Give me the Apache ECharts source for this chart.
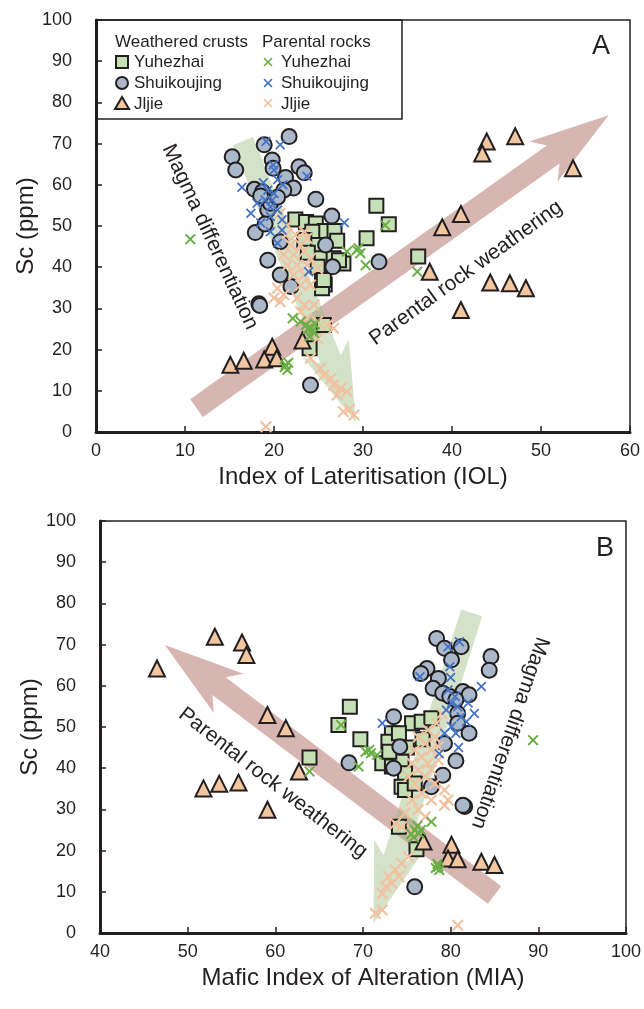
<!DOCTYPE html>
<html><head><meta charset="utf-8">
<script src="https://cdn.jsdelivr.net/npm/echarts@6/dist/echarts.min.js"></script>
<style>html,body{margin:0;padding:0;background:#fff}#c{width:644px;height:1009px}</style>
</head><body><div id="c"></div>
<script>
// ---------- DATA (Sc ppm vs IOL / MIA) ----------
const xTicksA = [0, 10, 20, 30, 40, 50, 60];
const xTicksB = [40, 50, 60, 70, 80, 90, 100];
const yTicks = [0, 10, 20, 30, 40, 50, 60, 70, 80, 90, 100];

// Panel A: IOL vs Sc
const crustYuhezhaiA = [[31.5,54.9],[32.9,50.4],[30.4,47.0],[36.2,42.6],[24.0,20.3],[22.4,51.6],[23.6,51.0],[24.7,50.6],[25.7,48.8],[26.8,48.8],[27.1,46.4],[24.3,48.6],[24.5,45.4],[25.2,42.2],[26.7,42.2],[27.8,40.9],[25.4,37.3],[25.7,35.8],[25.4,34.9],[25.6,26.0],[23.4,46.6],[23.8,43.5],[24.9,40.1],[25.6,36.9],[27.3,41.7]];
const crustShuikoujingA = [[21.7,71.7],[18.9,69.7],[15.3,66.8],[15.7,63.6],[19.8,66.0],[22.8,64.4],[23.4,62.9],[21.3,61.8],[19.9,64.0],[22.2,59.2],[17.8,58.9],[18.7,58.3],[21.1,58.7],[24.7,56.5],[19.3,53.9],[26.5,52.4],[17.9,48.4],[20.7,46.2],[25.8,45.4],[19.3,41.7],[26.6,40.1],[20.7,38.1],[18.3,31.1],[18.4,30.7],[24.1,11.4],[31.8,41.3],[19.6,55.5],[20.4,57.0],[18.5,57.3],[19.0,50.5],[21.9,35.3]];
const crustJljieA = [[43.9,70.5],[43.4,67.6],[47.1,71.8],[53.6,64.0],[41.0,52.9],[38.9,49.7],[37.5,38.9],[44.3,36.3],[46.5,36.1],[48.3,34.9],[41.0,29.6],[23.2,22.2],[15.1,16.3],[16.6,17.3],[19.8,20.7],[18.9,17.6],[20.3,17.9]];
const rockYuhezhaiA = [[10.6,46.8],[22.1,27.6],[24.1,25.2],[24.5,24.0],[23.6,26.0],[23.0,26.8],[24.0,23.2],[24.6,26.2],[24.3,24.6],[23.8,25.0],[21.3,16.3],[21.5,15.1],[21.2,15.7],[21.6,16.8],[28.2,43.8],[29.3,44.2],[29.7,43.4],[30.3,40.5],[32.5,50.2],[36.1,38.9],[29.5,44.6]];
const rockShuikoujingA = [[19.1,70.5],[20.7,69.7],[19.9,64.8],[20.0,63.6],[23.7,62.1],[20.4,61.2],[16.4,59.4],[19.3,58.7],[20.0,57.9],[19.8,56.3],[19.0,56.3],[19.6,54.7],[18.1,55.5],[20.4,53.9],[17.4,53.1],[19.6,52.3],[20.9,51.5],[18.5,50.7],[19.6,48.6],[20.9,49.0],[20.4,45.8],[23.9,38.9],[27.9,50.8],[18.8,60.5],[21.0,60.0]];
const rockJljieA = [[20.7,53.1],[21.5,50.2],[21.3,47.8],[22.4,47.8],[23.4,48.6],[23.7,47.0],[23.0,45.4],[21.9,45.4],[21.1,43.0],[22.2,43.0],[23.4,43.8],[24.1,42.2],[21.5,40.5],[22.6,40.5],[23.7,40.5],[24.9,39.7],[22.2,38.1],[23.4,38.1],[23.0,35.7],[24.1,35.7],[20.4,34.9],[21.1,33.3],[20.0,32.5],[20.7,31.6],[22.6,32.5],[23.4,30.8],[23.0,29.2],[24.5,30.8],[23.7,27.6],[24.9,26.8],[26.0,26.0],[26.7,25.2],[24.9,22.7],[24.1,17.9],[25.2,15.5],[25.6,13.8],[26.4,13.0],[26.7,11.4],[27.5,10.6],[27.1,9.0],[28.2,9.8],[27.8,4.9],[29.0,4.1],[28.5,5.5],[19.1,1.3]];

// Panel B: MIA vs Sc
const crustYuhezhaiB = [[68.5,54.9],[67.2,50.5],[69.7,47.0],[63.9,42.6],[76.1,20.3],[73.3,48.5],[75.6,50.9],[76.7,51.3],[77.8,52.1],[72.9,46.4],[72.2,41.2],[73.3,40.4],[74.4,41.6],[74.8,38.8],[74.4,35.5],[74.8,34.7],[75.9,36.3],[74.1,48.5],[73.0,44.0],[75.0,45.0],[76.8,47.0],[74.1,25.8]];
const crustShuikoujingB = [[78.4,71.5],[79.3,69.1],[81.2,69.5],[80.1,66.3],[84.6,67.1],[84.4,63.8],[77.3,64.2],[76.6,63.0],[78.6,61.8],[78.0,59.4],[79.1,58.2],[79.9,57.4],[81.4,58.6],[82.1,57.8],[80.6,56.6],[75.4,56.1],[73.5,52.5],[80.8,53.3],[80.8,50.9],[82.1,48.5],[74.2,45.2],[79.3,46.0],[73.5,40.0],[80.6,41.8],[79.1,38.3],[77.8,35.5],[81.6,30.7],[81.4,31.0],[75.9,11.2],[68.4,41.3]];
const crustJljieB = [[46.5,64.2],[53.1,71.9],[56.2,70.5],[56.7,67.5],[59.1,52.9],[61.2,49.7],[62.7,39.2],[51.8,35.1],[53.6,36.2],[55.8,36.5],[59.1,29.9],[76.9,22.2],[80.1,21.4],[79.7,18.1],[80.8,17.9],[83.5,17.3],[85.0,16.5]];
const rockYuhezhaiB = [[89.4,46.8],[67.5,50.5],[70.3,44.0],[70.9,43.6],[71.6,43.2],[69.5,40.4],[63.9,39.2],[75.9,25.0],[75.5,24.0],[76.2,26.0],[76.6,25.0],[75.8,23.2],[77.8,27.0],[78.6,16.1],[78.5,16.8],[78.7,15.3],[78.3,15.8],[70.7,44.4],[76.4,24.2]];
const rockShuikoujingB = [[79.7,69.5],[81.0,70.7],[79.9,64.6],[76.5,62.2],[83.5,59.8],[79.7,59.0],[80.5,57.4],[80.1,55.8],[80.8,54.9],[79.5,54.1],[81.2,52.5],[82.0,55.8],[82.7,53.3],[81.8,51.3],[80.1,50.1],[80.6,48.5],[79.3,48.5],[72.2,50.9],[80.0,62.0],[80.9,45.0],[78.7,43.5]];
const rockJljieB = [[79.0,53.3],[78.4,50.9],[77.4,49.3],[76.3,47.6],[78.2,47.6],[77.1,46.0],[75.9,44.4],[77.8,44.4],[78.6,45.2],[76.7,42.8],[75.6,41.2],[77.4,41.2],[78.6,42.0],[76.3,39.6],[77.8,39.6],[75.2,37.9],[77.1,37.9],[75.9,36.3],[78.2,36.3],[79.3,34.7],[76.7,33.9],[75.6,32.3],[77.8,32.3],[79.7,32.3],[79.3,31.0],[76.3,29.9],[74.8,29.1],[77.1,28.2],[74.4,25.8],[73.7,26.6],[75.6,25.0],[75.2,18.5],[74.4,16.9],[73.7,15.3],[74.1,13.7],[72.9,13.7],[73.3,12.1],[72.6,11.2],[72.2,9.6],[71.4,4.8],[72.2,5.6],[80.8,1.9]];

// Trend arrows (tail x, tail y, tip x, tip y) in data units
const weatheringArrowA = [11.3, 5.8, 57.6, 76.9];
const magmaArrowA = [16.5, 70.6, 29.2, 2.3];
const weatheringArrowB = [85.0, 9.2, 47.4, 69.9];
const magmaArrowB = [82.4, 77.7, 71.2, 2.3];

// ---------- STYLE ----------
const FONT = 'Arial, "Liberation Sans", Helvetica, sans-serif';
const INK = '#231f20';
const C_SQ = '#c5e0b4', C_CI = '#aab8ca', C_TR = '#f3c6a2';
const C_XG = '#6aae46', C_XB = '#4472c4', C_XP = '#f1c1a0';
const PINK = 'rgba(176,110,100,0.5)', GREEN = 'rgba(150,185,125,0.42)';
const XPTS = [[0,1.5],[1.5,0],[6,4.5],[10.5,0],[12,1.5],[7.5,6],[12,10.5],[10.5,12],[6,7.5],[1.5,12],[0,10.5],[4.5,6]];
const XPATH = 'path://M' + XPTS.map(p => p.join(',')).join('L') + 'Z';

function arrowItem(params, api) {
  const a = api.coord([api.value(0), api.value(1)]);
  const b = api.coord([api.value(2), api.value(3)]);
  const dx = b[0]-a[0], dy = b[1]-a[1], L = Math.hypot(dx, dy);
  const ux = dx/L, uy = dy/L, nx = -uy, ny = ux;
  const sw = 11, hw = 24.5, hl = 80, hj = 68;
  const P = (t, s) => [a[0]+ux*t+nx*s, a[1]+uy*t+ny*s];
  return { type: 'polygon', shape: { points: [P(0,-sw),P(L-hj,-sw),P(L-hl,-hw),P(L,0),P(L-hl,hw),P(L-hj,sw),P(0,sw)] },
           style: { fill: api.visual('color') } };
}

function xAxis(gi, ticks, name) {
  return { type: 'value', gridIndex: gi, min: ticks[0], max: ticks[ticks.length-1], interval: 10,
    name, nameLocation: 'middle', nameGap: 33, nameMoveOverlap: false,
    nameTextStyle: { fontFamily: FONT, fontSize: 24, color: INK },
    axisLine: { show: true, onZero: false, lineStyle: { color: INK, width: 3 } },
    axisTick: { show: true, inside: true, length: 6, lineStyle: { color: INK, width: 1.5 } },
    axisLabel: { fontFamily: FONT, fontSize: 18, color: INK, margin: 10 },
    splitLine: { show: false } };
}
function yAxis(gi) {
  return { type: 'value', gridIndex: gi, min: yTicks[0], max: yTicks[yTicks.length-1], interval: 10,
    name: 'Sc (ppm)', nameLocation: 'middle', nameGap: 58, nameMoveOverlap: false,
    nameTextStyle: { fontFamily: FONT, fontSize: 24, color: INK },
    axisLine: { show: true, onZero: false, lineStyle: { color: INK, width: 3 } },
    axisTick: { show: true, inside: true, length: 6, lineStyle: { color: INK, width: 1.5 } },
    axisLabel: { fontFamily: FONT, fontSize: 18, color: INK, margin: 24 },
    splitLine: { show: false } };
}

function panelSeries(gi, arrows, sq, ci, tr, xg, xb, xp) {
  const s = [];
  arrows.forEach(([arr, col]) => s.push({ type: 'custom', xAxisIndex: gi, yAxisIndex: gi, renderItem: arrowItem,
    data: [arr], encode: { x: [0, 2], y: [1, 3] }, itemStyle: { color: col }, silent: true, z: 1 }));
  const sc = (data, symbol, size, style, z) => ({ type: 'scatter', xAxisIndex: gi, yAxisIndex: gi, data, symbol,
    symbolSize: size, itemStyle: style, z, silent: true, animation: false });
  s.push(sc(sq, 'rect', 14, { color: C_SQ, borderColor: INK, borderWidth: 2, opacity: 1 }, 3));
  s.push(sc(ci, 'circle', 15, { color: C_CI, borderColor: INK, borderWidth: 2, opacity: 1 }, 4));
  s.push(sc(tr, 'triangle', 16, { color: C_TR, borderColor: INK, borderWidth: 2, opacity: 1 }, 5));
  s.push(sc(xp, XPATH, 12, { color: C_XP, opacity: 1 }, 6));
  s.push(sc(xb, XPATH, 10, { color: C_XB, opacity: 1 }, 7));
  s.push(sc(xg, XPATH, 11, { color: C_XG, opacity: 1 }, 8));
  return s;
}

const series = [].concat(
  panelSeries(0, [[weatheringArrowA, PINK], [magmaArrowA, GREEN]], crustYuhezhaiA, crustShuikoujingA, crustJljieA, rockYuhezhaiA, rockShuikoujingA, rockJljieA),
  panelSeries(1, [[weatheringArrowB, PINK], [magmaArrowB, GREEN]], crustYuhezhaiB, crustShuikoujingB, crustJljieB, rockYuhezhaiB, rockShuikoujingB, rockJljieB)
);

// ---------- GRAPHIC (legend, labels, annotations) ----------
function txt(x, y, text, size, rot, align) {
  return { type: 'text', x, y, rotation: rot || 0, z: 20, silent: true,
    style: { text, font: size + 'px ' + FONT, fill: INK, align: align || 'left', verticalAlign: 'middle' } };
}
function xMark(cx, cy, s, color) {
  return { type: 'polygon', z: 20, silent: true,
    shape: { points: XPTS.map(p => [cx - s/2 + p[0]*s/12, cy - s/2 + p[1]*s/12]) }, style: { fill: color } };
}
const graphic = [
  { type: 'rect', z: 19, silent: true, shape: { x: 96, y: 20, width: 306, height: 99 }, style: { fill: 'none', stroke: INK, lineWidth: 1.5 } },
  txt(115, 42, 'Weathered crusts', 17), txt(262, 42, 'Parental rocks', 17),
  { type: 'rect', z: 20, silent: true, shape: { x: 116, y: 56, width: 12, height: 12 }, style: { fill: C_SQ, stroke: INK, lineWidth: 2 } },
  { type: 'circle', z: 20, silent: true, shape: { cx: 122, cy: 83, r: 6 }, style: { fill: C_CI, stroke: INK, lineWidth: 2 } },
  { type: 'polygon', z: 20, silent: true, shape: { points: [[122, 97], [129, 109], [115, 109]] }, style: { fill: C_TR, stroke: INK, lineWidth: 2 } },
  txt(134, 62, 'Yuhezhai', 17), txt(134, 83, 'Shuikoujing', 17), txt(134, 104, 'Jljie', 17),
  xMark(268, 62, 9, C_XG), xMark(268, 83, 9, C_XB), xMark(268, 103, 9, C_XP),
  txt(281, 62, 'Yuhezhai', 17), txt(281, 83, 'Shuikoujing', 17), txt(281, 104, 'Jljie', 17),
  txt(601, 47, 'A', 27, 0, 'center'), txt(605, 549, 'B', 27, 0, 'center'),
  txt(210, 237, 'Magma differentiation', 21, -1.136, 'center'),
  txt(466, 273, 'Parental rock weathering', 21, 0.625, 'center'),
  txt(273, 783, 'Parental rock weathering', 21, -0.658, 'center'),
  txt(510, 733, 'Magma differentiation', 21, -1.902, 'center')
];

const chart = echarts.init(document.getElementById('c'), null, { renderer: 'canvas' });
chart.setOption({
  animation: false,
  backgroundColor: '#fff',
  grid: [
    { left: 96, top: 20, width: 534, height: 412, show: true, borderColor: INK, borderWidth: 1.5, backgroundColor: 'transparent' },
    { left: 100, top: 521, width: 530, height: 412, show: true, borderColor: INK, borderWidth: 1.5, backgroundColor: 'transparent' }
  ],
  xAxis: [xAxis(0, xTicksA, 'Index of Lateritisation (IOL)'), xAxis(1, xTicksB, 'Mafic Index of Alteration (MIA)')],
  yAxis: [yAxis(0), yAxis(1)],
  series,
  graphic
});
</script></body></html>
